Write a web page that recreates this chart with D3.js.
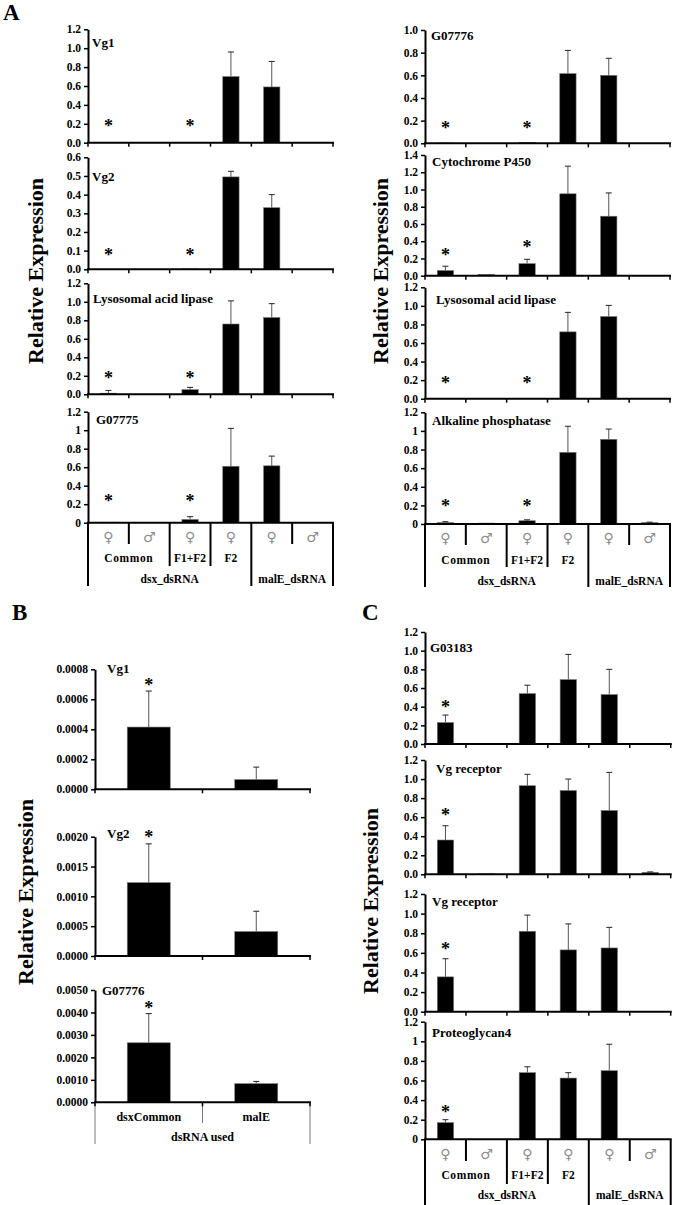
<!DOCTYPE html>
<html><head><meta charset="utf-8">
<script src="https://cdn.jsdelivr.net/npm/d3@7"></script>
<style>
body{margin:0;background:#fff}
svg{display:block}
text{font-family:"Liberation Serif","Times New Roman",serif;fill:#000}
text.sex{font-family:"DejaVu Sans",sans-serif;fill:#8c8c8c}
</style></head><body>
<svg id="c" width="676" height="1205"></svg>
<script>
// ---------- categories ----------
const sexLabels = ["♀\uFE0E","♂\uFE0E","♀\uFE0E","♀\uFE0E","♀\uFE0E","♂\uFE0E"];
const groupLabels = ["Common","F1+F2","F2"];
const groupSpans = [[0,2],[2,3],[3,4]];
const dsrnaLabels = ["dsx_dsRNA","malE_dsRNA"];
const dsrnaSpans = [[0,4],[4,6]];
const bCategories = ["dsxCommon","malE"];
const bGroupLabel = "dsRNA used";

// ---------- Panel A (left column) ----------
const aVg1Values  = [0, 0, 0, 0.70, 0.59, 0];
const aVg1Errors  = [0, 0, 0, 0.26, 0.27, 0];
const aVg1Stars   = [0.2, null, 0.2, null, null, null];

const aVg2Values  = [0, 0, 0.002, 0.495, 0.33, 0];
const aVg2Errors  = [0, 0, 0, 0.03, 0.07, 0];
const aVg2Stars   = [0.09, null, 0.09, null, null, null];

const aLalLValues = [0.012, 0, 0.05, 0.76, 0.83, 0];
const aLalLErrors = [0.03, 0, 0.025, 0.25, 0.15, 0];
const aLalLStars  = [0.2, null, 0.2, null, null, null];

const aG07775Values = [0.005, 0.003, 0.035, 0.61, 0.615, 0.002];
const aG07775Errors = [0, 0, 0.03, 0.41, 0.105, 0];
const aG07775Stars  = [0.26, null, 0.26, null, null, null];

// ---------- Panel A (right column) ----------
const aG07776Values = [0.003, 0, 0.008, 0.615, 0.60, 0];
const aG07776Errors = [0, 0, 0, 0.205, 0.15, 0];
const aG07776Stars  = [0.16, null, 0.16, null, null, null];

const aCypValues = [0.06, 0.015, 0.14, 0.95, 0.69, 0];
const aCypErrors = [0.05, 0, 0.05, 0.32, 0.27, 0];
const aCypStars  = [0.27, null, 0.36, null, null, null];

const aLalRValues = [0, 0, 0, 0.72, 0.885, 0];
const aLalRErrors = [0, 0, 0, 0.21, 0.12, 0];
const aLalRStars  = [0.2, null, 0.2, null, null, null];

const aAlpValues = [0.015, 0.01, 0.035, 0.77, 0.91, 0.015];
const aAlpErrors = [0.01, 0, 0.01, 0.28, 0.11, 0.005];
const aAlpStars  = [0.22, null, 0.22, null, null, null];

// ---------- Panel B ----------
const bVg1Values = [0.000415, 0.000065];
const bVg1Errors = [0.00024, 0.000083];
const bVg1Stars  = [0.00071, null];

const bVg2Values = [0.00123, 0.00041];
const bVg2Errors = [0.00065, 0.00034];
const bVg2Stars  = [0.00203, null];

const bG07776Values = [0.00265, 0.00083];
const bG07776Errors = [0.0013, 0.0001];
const bG07776Stars  = [0.00433, null];

// ---------- Panel C ----------
const cG03183Values = [0.23, 0, 0.54, 0.69, 0.53, 0.005];
const cG03183Errors = [0.08, 0, 0.09, 0.27, 0.27, 0];
const cG03183Stars  = [0.42, null, null, null, null, null];

const cVgR1Values = [0.36, 0.005, 0.93, 0.88, 0.67, 0.02];
const cVgR1Errors = [0.15, 0, 0.12, 0.12, 0.40, 0.005];
const cVgR1Stars  = [0.65, null, null, null, null, null];

const cVgR2Values = [0.355, 0, 0.82, 0.63, 0.65, 0];
const cVgR2Errors = [0.185, 0, 0.165, 0.265, 0.21, 0];
const cVgR2Stars  = [0.66, null, null, null, null, null];

const cPrgValues = [0.17, 0, 0.68, 0.625, 0.70, 0];
const cPrgErrors = [0.03, 0, 0.06, 0.055, 0.27, 0];
const cPrgStars  = [0.30, null, null, null, null, null];

// ---------- formats ----------
const f1 = d3.format(".1f");
const fShort = d => String(+d.toFixed(1));
const f4 = d3.format(".4f");

// ---------- layout ----------
const subplots = [
  {gene:"Vg1", values:aVg1Values, errors:aVg1Errors, stars:aVg1Stars, x0:88, x1:333, yTop:29.3, yBot:142.7, max:1.2, step:0.2, fmt:f1, lx:92, ly:42},
  {gene:"Vg2", values:aVg2Values, errors:aVg2Errors, stars:aVg2Stars, x0:88, x1:333, yTop:157.3, yBot:269.3, max:0.6, step:0.1, fmt:f1, lx:92, ly:176},
  {gene:"Lysosomal acid lipase", values:aLalLValues, errors:aLalLErrors, stars:aLalLStars, x0:88, x1:333, yTop:283.3, yBot:394.3, max:1.2, step:0.2, fmt:f1, lx:93, ly:298},
  {gene:"G07775", values:aG07775Values, errors:aG07775Errors, stars:aG07775Stars, x0:88, x1:333, yTop:411.7, yBot:522.7, max:1.2, step:0.2, fmt:fShort, lx:96, ly:419, cats:{sexY:537, grpY:558, dsY:579, shortEnd:544, midEnd:566, fullEnd:586}},

  {gene:"G07776", values:aG07776Values, errors:aG07776Errors, stars:aG07776Stars, x0:425, x1:670, yTop:30, yBot:143.3, max:1.0, step:0.2, fmt:f1, lx:431, ly:35},
  {gene:"Cytochrome P450", values:aCypValues, errors:aCypErrors, stars:aCypStars, x0:425, x1:670, yTop:155, yBot:275.7, max:1.4, step:0.2, fmt:f1, lx:432, ly:161},
  {gene:"Lysosomal acid lipase", values:aLalRValues, errors:aLalRErrors, stars:aLalRStars, x0:425, x1:670, yTop:287.3, yBot:398.7, max:1.2, step:0.2, fmt:f1, lx:436, ly:299},
  {gene:"Alkaline phosphatase", values:aAlpValues, errors:aAlpErrors, stars:aAlpStars, x0:425, x1:670, yTop:412.3, yBot:524, max:1.2, step:0.2, fmt:fShort, lx:432, ly:420, cats:{sexY:538, grpY:560, dsY:581, shortEnd:545, midEnd:567, fullEnd:587}},

  {gene:"G03183", values:cG03183Values, errors:cG03183Errors, stars:cG03183Stars, x0:425, x1:670.7, yTop:632, yBot:744, max:1.2, step:0.2, fmt:f1, lx:430, ly:647},
  {gene:"Vg receptor", values:cVgR1Values, errors:cVgR1Errors, stars:cVgR1Stars, x0:425, x1:670.7, yTop:760, yBot:874.3, max:1.2, step:0.2, fmt:f1, lx:436, ly:768},
  {gene:"Vg receptor", values:cVgR2Values, errors:cVgR2Errors, stars:cVgR2Stars, x0:425, x1:670.7, yTop:894, yBot:1011.7, max:1.2, step:0.2, fmt:f1, lx:432, ly:901},
  {gene:"Proteoglycan4", values:cPrgValues, errors:cPrgErrors, stars:cPrgStars, x0:425, x1:670.7, yTop:1021.7, yBot:1139.3, max:1.2, step:0.2, fmt:fShort, lx:432, ly:1032, cats:{sexY:1154, grpY:1175, dsY:1195, shortEnd:1161, midEnd:1184, fullEnd:1206}},

  {gene:"Vg1", values:bVg1Values, errors:bVg1Errors, stars:bVg1Stars, x0:95, x1:310, yTop:669.3, yBot:789.3, max:0.0008, step:0.0002, fmt:f4, lx:107, ly:668, b:true},
  {gene:"Vg2", values:bVg2Values, errors:bVg2Errors, stars:bVg2Stars, x0:95, x1:310, yTop:836.7, yBot:956, max:0.0020, step:0.0005, fmt:f4, lx:107, ly:833, b:true},
  {gene:"G07776", values:bG07776Values, errors:bG07776Errors, stars:bG07776Stars, x0:95, x1:310, yTop:990, yBot:1102.3, max:0.0050, step:0.0010, fmt:f4, lx:102, ly:990, b:true, bcats:{labY:1117, grpY:1137, midEnd:1123, fullEnd:1144}},
];

const svg = d3.select("#c");

function drawSubplot(s){
  const g = svg.append("g");
  const n = s.values.length;
  const x = d3.scaleBand().domain(d3.range(n)).range([s.x0, s.x1]).paddingInner(0.6).paddingOuter(0.3);
  const stepW = (s.x1 - s.x0) / n;
  const y = d3.scaleLinear().domain([0, s.max]).range([s.yBot, s.yTop]);
  const ticks = d3.range(0, Math.round(s.max / s.step) + 1).map(i => +(i * s.step).toFixed(6));

  // bars
  g.selectAll("rect.bar").data(s.values).join("rect")
    .attr("x", (d,i) => x(i)).attr("width", x.bandwidth())
    .attr("y", d => y(d)).attr("height", d => s.yBot - y(d))
    .attr("fill", "#000").attr("stroke", "#777").attr("stroke-width", 0.6);

  // error bars
  const eb = s.values.map((v,i) => ({i, v, e: s.errors[i]})).filter(d => d.e > 0);
  g.selectAll("line.err").data(eb).join("line")
    .attr("x1", d => x(d.i) + x.bandwidth()/2).attr("x2", d => x(d.i) + x.bandwidth()/2)
    .attr("y1", d => y(d.v)).attr("y2", d => y(d.v + d.e))
    .attr("stroke", "#555").attr("stroke-width", 1);
  g.selectAll("line.cap").data(eb).join("line")
    .attr("x1", d => x(d.i) + x.bandwidth()/2 - 3).attr("x2", d => x(d.i) + x.bandwidth()/2 + 3)
    .attr("y1", d => y(d.v + d.e)).attr("y2", d => y(d.v + d.e))
    .attr("stroke", "#222").attr("stroke-width", 1);

  // stars
  const st = s.stars.map((v,i) => ({i, v})).filter(d => d.v != null);
  g.selectAll("text.star").data(st).join("text")
    .attr("x", d => x(d.i) + x.bandwidth()/2).attr("y", d => y(d.v) + 8.5)
    .attr("text-anchor", "middle").attr("font-size", 18).attr("font-weight", "bold")
    .text("*");

  // y axis
  const ya = g.append("g").attr("transform", `translate(${s.x0},0)`)
    .call(d3.axisLeft(y).tickValues(ticks).tickFormat(s.fmt).tickSize(4).tickSizeOuter(0).tickPadding(3));
  ya.select(".domain").attr("stroke", "#000").attr("stroke-width", 2);
  ya.selectAll(".tick line").attr("stroke", "#000").attr("stroke-width", 1.5);
  ya.selectAll(".tick text").attr("font-size", 11.5).attr("font-weight", "bold")
    .style("font-family", '"Liberation Serif",serif').attr("fill", "#000");

  // x axis baseline
  g.append("line").attr("x1", s.x0 - 1).attr("x2", s.x1 + 1).attr("y1", s.yBot).attr("y2", s.yBot)
    .attr("stroke", "#000").attr("stroke-width", 2);

  // category boundaries (ticks / separators)
  const bounds = d3.range(n + 1);
  if (s.cats){
    const ends = [s.cats.fullEnd, s.cats.shortEnd, s.cats.midEnd, s.cats.midEnd, s.cats.fullEnd, s.cats.shortEnd, s.cats.fullEnd];
    g.selectAll("line.sep").data(bounds).join("line")
      .attr("x1", k => s.x0 + k*stepW).attr("x2", k => s.x0 + k*stepW)
      .attr("y1", s.yBot).attr("y2", k => ends[k])
      .attr("stroke", "#000").attr("stroke-width", 2);
    g.selectAll("text.sex").data(sexLabels).join("text").attr("class", "sex")
      .attr("x", (d,i) => x(i) + x.bandwidth()/2).attr("y", s.cats.sexY)
      .attr("text-anchor", "middle").attr("dominant-baseline", "central")
      .attr("font-size", 14).text(d => d);
    g.selectAll("text.grp").data(groupLabels).join("text")
      .attr("x", (d,i) => s.x0 + (groupSpans[i][0] + groupSpans[i][1]) / 2 * stepW)
      .attr("y", s.cats.grpY).attr("text-anchor", "middle").attr("dominant-baseline", "central")
      .attr("font-size", 11.5).attr("font-weight", "bold").attr("letter-spacing", (d,i) => i === 0 ? 0.6 : 0)
      .text(d => d);
    g.selectAll("text.ds").data(dsrnaLabels).join("text")
      .attr("x", (d,i) => s.x0 + (dsrnaSpans[i][0] + dsrnaSpans[i][1]) / 2 * stepW)
      .attr("y", s.cats.dsY).attr("text-anchor", "middle").attr("dominant-baseline", "central")
      .attr("font-size", 11.5).attr("font-weight", "bold").text(d => d);
  } else if (s.bcats){
    const ends = [s.bcats.fullEnd, s.bcats.midEnd, s.bcats.fullEnd];
    g.selectAll("line.sep").data(bounds).join("line")
      .attr("x1", k => s.x0 + k*stepW).attr("x2", k => s.x0 + k*stepW)
      .attr("y1", s.yBot).attr("y2", k => ends[k])
      .attr("stroke", "#777").attr("stroke-width", 1);
    g.selectAll("line.tk").data(bounds).join("line")
      .attr("x1", k => s.x0 + k*stepW).attr("x2", k => s.x0 + k*stepW)
      .attr("y1", s.yBot).attr("y2", s.yBot + 4)
      .attr("stroke", "#000").attr("stroke-width", 1.5);
    g.selectAll("text.bcat").data(bCategories).join("text")
      .attr("x", (d,i) => x(i) + x.bandwidth()/2).attr("y", s.bcats.labY)
      .attr("text-anchor", "middle").attr("dominant-baseline", "central")
      .attr("font-size", 12).attr("font-weight", "bold").text(d => d);
    g.append("text").attr("x", (s.x0 + s.x1)/2).attr("y", s.bcats.grpY)
      .attr("text-anchor", "middle").attr("dominant-baseline", "central")
      .attr("font-size", 12).attr("font-weight", "bold").text(bGroupLabel);
  } else {
    g.selectAll("line.tk").data(bounds).join("line")
      .attr("x1", k => s.x0 + k*stepW).attr("x2", k => s.x0 + k*stepW)
      .attr("y1", s.yBot).attr("y2", s.yBot + 4)
      .attr("stroke", "#000").attr("stroke-width", 1.5);
  }

  // gene label
  g.append("text").attr("x", s.lx).attr("y", s.ly).attr("dominant-baseline", "central")
    .attr("font-size", 13).attr("font-weight", "bold").text(s.gene);
}

subplots.forEach(drawSubplot);

// y-axis titles
const yTitles = [
  {x:43, y:271}, {x:388, y:271}, {x:33, y:892}, {x:378, y:901}
];
svg.selectAll("text.ytitle").data(yTitles).join("text")
  .attr("transform", d => `translate(${d.x},${d.y}) rotate(-90)`)
  .attr("text-anchor", "middle").attr("font-size", 22).attr("font-weight", "bold")
  .text("Relative Expression");

// panel letters
const panelLetters = [{t:"A", x:3, y:20}, {t:"B", x:12, y:620}, {t:"C", x:362, y:620}];
svg.selectAll("text.plabel").data(panelLetters).join("text")
  .attr("x", d => d.x).attr("y", d => d.y)
  .attr("font-size", 23).attr("font-weight", "bold").text(d => d.t);
</script>
</body></html>
